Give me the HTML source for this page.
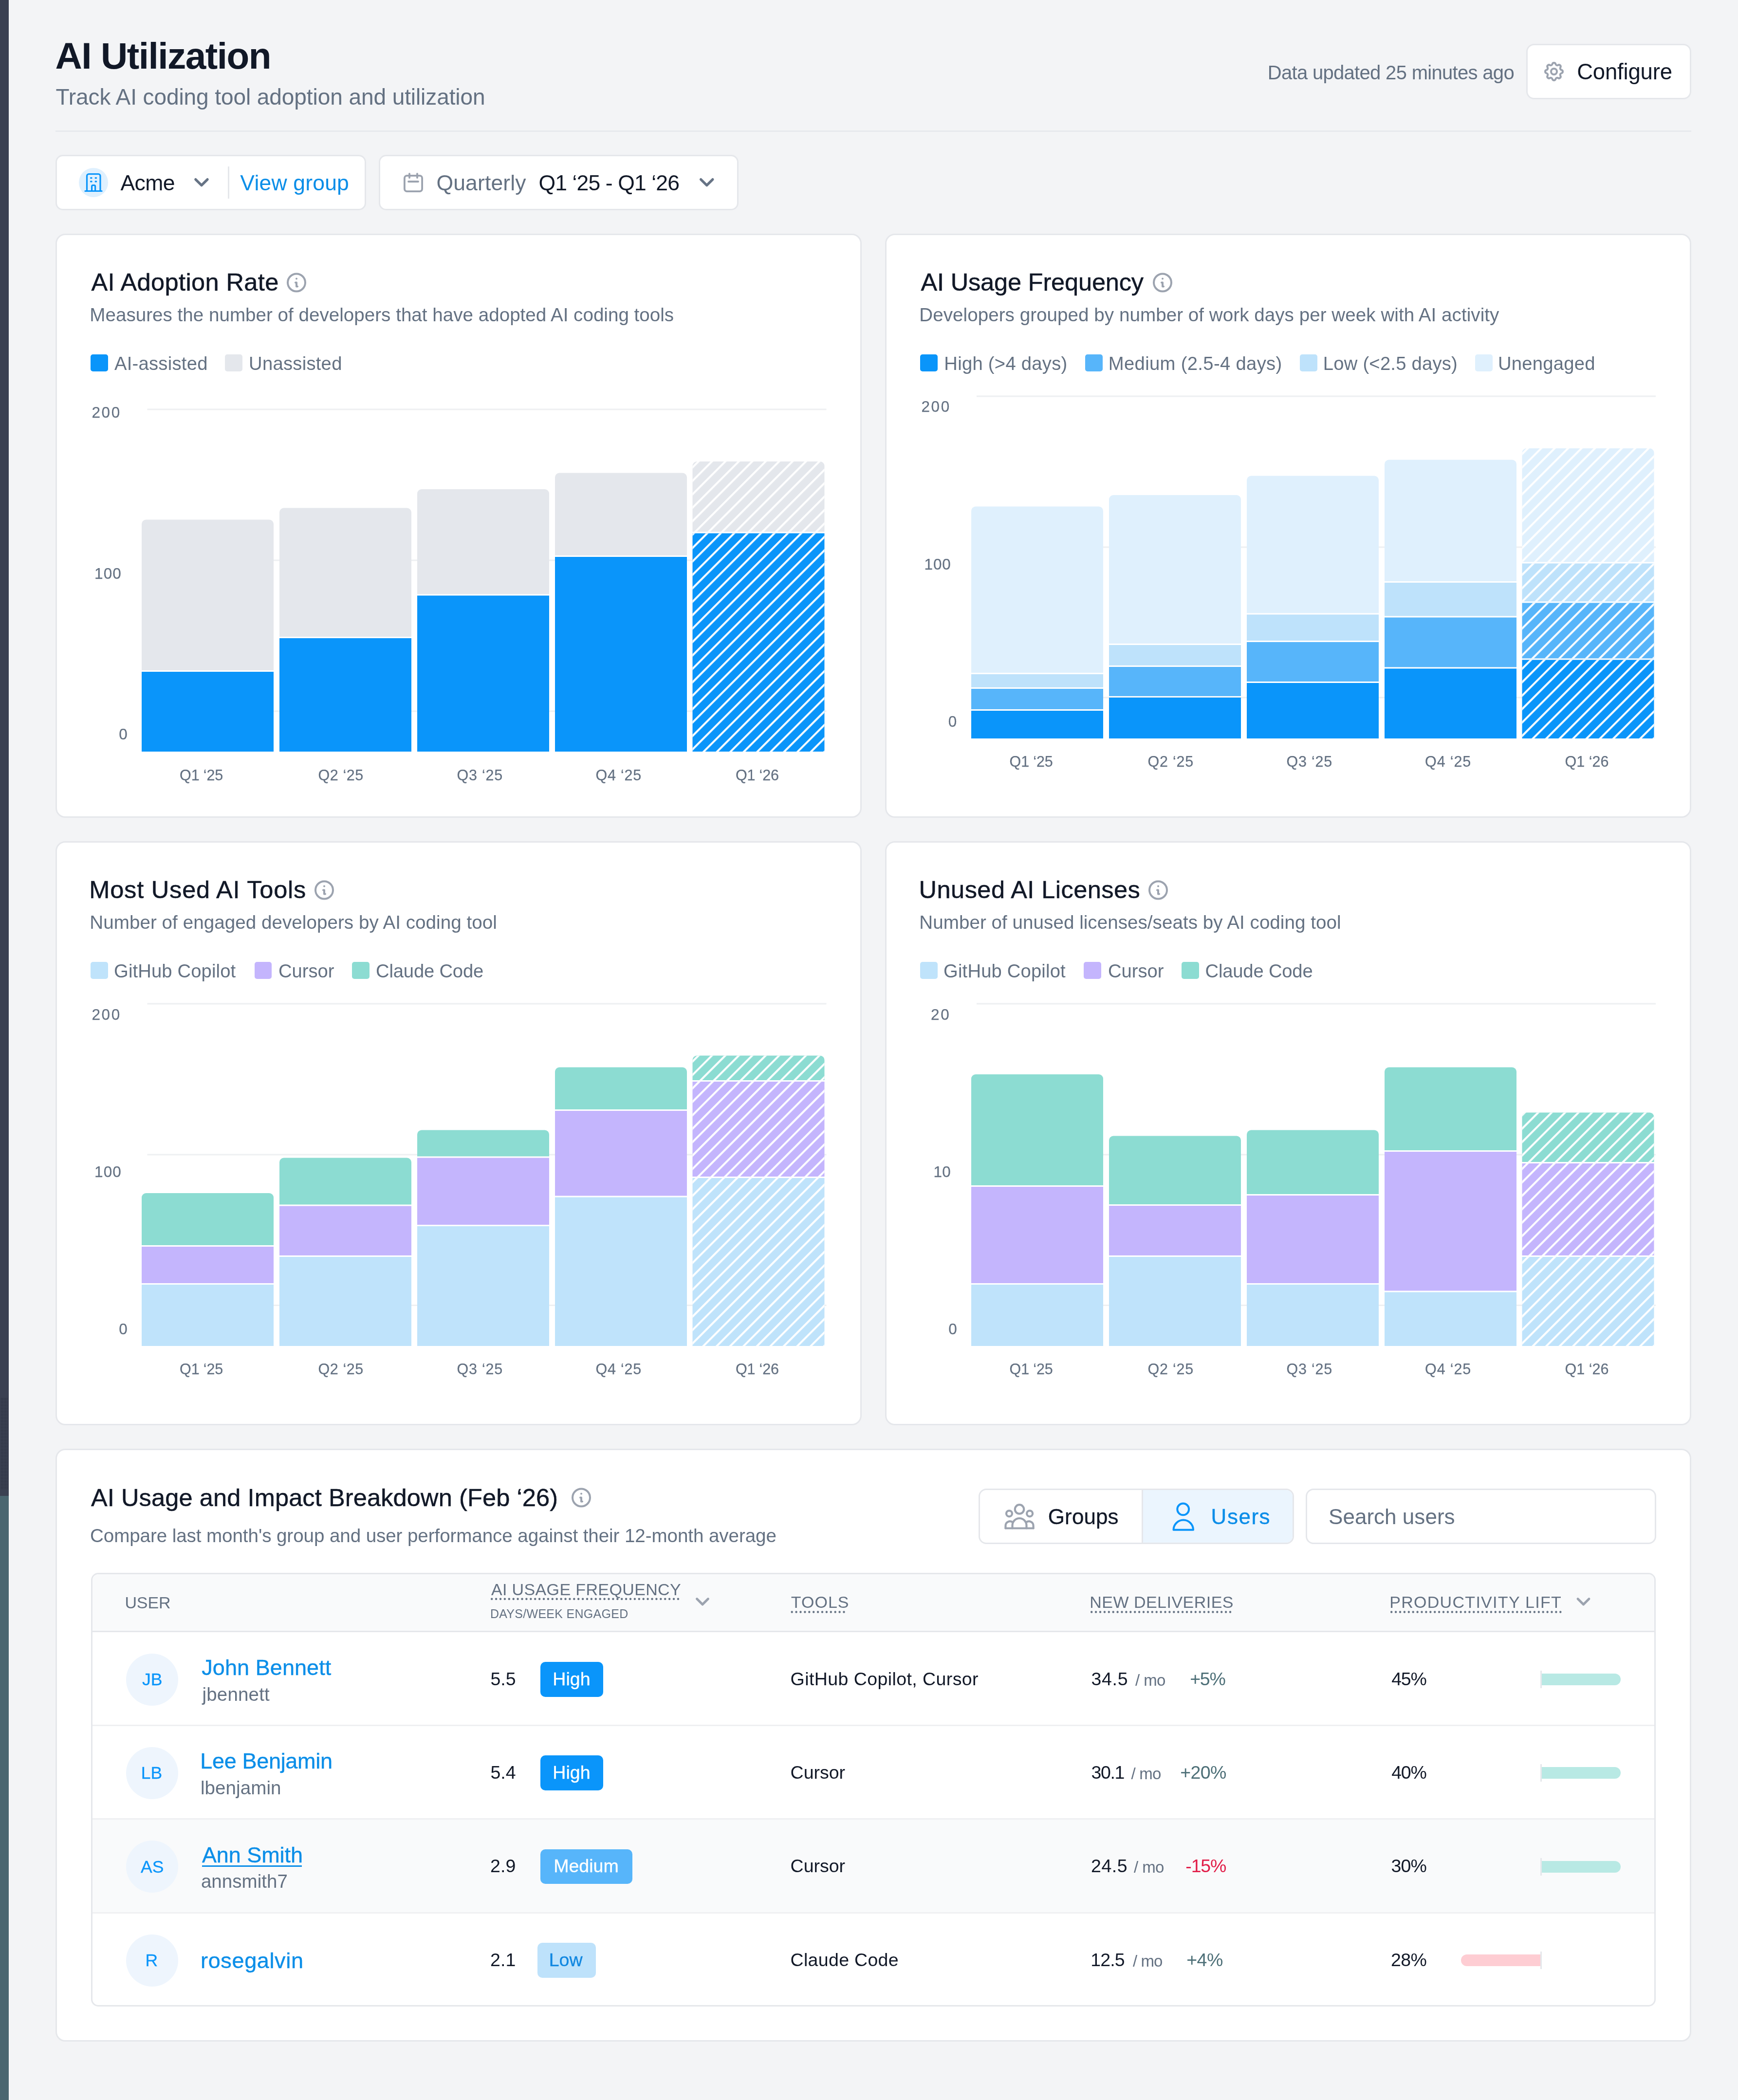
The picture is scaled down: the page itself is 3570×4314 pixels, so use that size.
<!DOCTYPE html>
<html><head><meta charset="utf-8"><title>AI Utilization</title>
<style>
html,body{margin:0;padding:0;}
body{width:3570px;height:4314px;position:relative;overflow:hidden;background:#f3f4f6;font-family:"Liberation Sans", sans-serif;}
.b{position:absolute;box-sizing:border-box;}
.t{position:absolute;white-space:nowrap;line-height:1;}
.ov{position:absolute;left:0;top:0;}
.tl{position:absolute;left:0;top:0;width:3570px;height:4314px;will-change:transform;}
</style></head><body>
<div class="b" style="left:0px;top:0px;width:18px;height:3073px;background:#3b4152;"></div>
<div class="b" style="left:0px;top:3073px;width:18px;height:1241px;background:#4a6670;"></div>
<div class="b" style="left:18px;top:0px;width:1px;height:4314px;background:#fbfbfc;"></div>
<div class="b" style="left:3135px;top:90px;width:339px;height:114px;background:#fff;border:3px solid #e5e7eb;border-radius:16px;"></div>
<div class="b" style="left:114px;top:268px;width:3360px;height:3px;background:#e7e9ed;"></div>
<div class="b" style="left:114px;top:318px;width:638px;height:114px;background:#fff;border:3px solid #e5e7eb;border-radius:15px;"></div>
<div class="b" style="left:162px;top:345px;width:60px;height:60px;background:#dff0fe;border-radius:30px;"></div>
<div class="b" style="left:468px;top:342px;width:3px;height:66px;background:#e5e7eb;"></div>
<div class="b" style="left:778px;top:318px;width:739px;height:114px;background:#fff;border:3px solid #e5e7eb;border-radius:15px;"></div>
<div class="b" style="left:114px;top:480px;width:1656px;height:1200px;background:#fff;border:3px solid #e5e7eb;border-radius:20px;"></div>
<div class="b" style="left:1818px;top:480px;width:1656px;height:1200px;background:#fff;border:3px solid #e5e7eb;border-radius:20px;"></div>
<div class="b" style="left:114px;top:1728px;width:1656px;height:1200px;background:#fff;border:3px solid #e5e7eb;border-radius:20px;"></div>
<div class="b" style="left:1818px;top:1728px;width:1656px;height:1200px;background:#fff;border:3px solid #e5e7eb;border-radius:20px;"></div>
<div class="b" style="left:114px;top:2976px;width:3360px;height:1218px;background:#fff;border:3px solid #e5e7eb;border-radius:20px;"></div>
<div class="b" style="left:186px;top:727.5px;width:35.5px;height:35.5px;background:#0a95fa;border-radius:5px;"></div>
<div class="b" style="left:462px;top:727.5px;width:35.5px;height:35.5px;background:#e4e7ec;border-radius:5px;"></div>
<div class="b" style="left:1890px;top:727.5px;width:35.5px;height:35.5px;background:#0a95fa;border-radius:5px;"></div>
<div class="b" style="left:2229px;top:727.5px;width:35.5px;height:35.5px;background:#57b5fa;border-radius:5px;"></div>
<div class="b" style="left:2670px;top:727.5px;width:35.5px;height:35.5px;background:#bee2fb;border-radius:5px;"></div>
<div class="b" style="left:3030px;top:727.5px;width:35.5px;height:35.5px;background:#dff0fd;border-radius:5px;"></div>
<div class="b" style="left:186px;top:1975.5px;width:35.5px;height:35.5px;background:#bfe3fb;border-radius:5px;"></div>
<div class="b" style="left:522.5px;top:1975.5px;width:35.5px;height:35.5px;background:#c4b5fd;border-radius:5px;"></div>
<div class="b" style="left:723px;top:1975.5px;width:35.5px;height:35.5px;background:#8cdcd2;border-radius:5px;"></div>
<div class="b" style="left:1890px;top:1975.5px;width:35.5px;height:35.5px;background:#bfe3fb;border-radius:5px;"></div>
<div class="b" style="left:2226px;top:1975.5px;width:35.5px;height:35.5px;background:#c4b5fd;border-radius:5px;"></div>
<div class="b" style="left:2427px;top:1975.5px;width:35.5px;height:35.5px;background:#8cdcd2;border-radius:5px;"></div>
<div class="b" style="left:2010px;top:3058px;width:648px;height:114px;background:#fff;border:3px solid #e5e7eb;border-radius:16px;"></div>
<div class="b" style="left:2346px;top:3061px;width:309px;height:108px;background:#ebf5fe;border-radius:0 13px 13px 0;"></div>
<div class="b" style="left:2345px;top:3061px;width:3px;height:108px;background:#e5e7eb;"></div>
<div class="b" style="left:2682px;top:3058px;width:720px;height:114px;background:#fff;border:3px solid #e5e7eb;border-radius:16px;"></div>
<div class="b" style="left:187px;top:3231px;width:3214px;height:891px;background:#fff;border:3px solid #e5e7eb;border-radius:15px;"></div>
<div class="b" style="left:190px;top:3234px;width:3208px;height:116px;background:#f9fafb;border-radius:12px 12px 0 0;"></div>
<div class="b" style="left:190px;top:3350px;width:3208px;height:3px;background:#e5e7eb;"></div>
<div class="b" style="left:190px;top:3737px;width:3208px;height:191px;background:#f9fafb;"></div>
<div class="b" style="left:190px;top:3542.5px;width:3208px;height:3.0px;background:#eff0f2;"></div>
<div class="b" style="left:190px;top:3734.5px;width:3208px;height:3.0px;background:#eff0f2;"></div>
<div class="b" style="left:190px;top:3927.5px;width:3208px;height:3.0px;background:#eff0f2;"></div>
<div class="b" style="left:258.5px;top:3396.5px;width:107.0px;height:107.0px;background:#eef5fd;border-radius:54px;"></div>
<div class="b" style="left:1110px;top:3414px;width:128.5px;height:71.5px;background:#0a95fa;border-radius:10px;"></div>
<div class="b" style="left:3167px;top:3438px;width:162px;height:24px;background:#b8e9e4;border-radius:0 12px 12px 0;"></div>
<div class="b" style="left:3164px;top:3432px;width:2.5px;height:36px;background:#e5e7eb;"></div>
<div class="b" style="left:258.5px;top:3588.5px;width:107.0px;height:107.0px;background:#eef5fd;border-radius:54px;"></div>
<div class="b" style="left:1110px;top:3606px;width:128.5px;height:71.5px;background:#0a95fa;border-radius:10px;"></div>
<div class="b" style="left:3167px;top:3630px;width:162px;height:24px;background:#b8e9e4;border-radius:0 12px 12px 0;"></div>
<div class="b" style="left:3164px;top:3624px;width:2.5px;height:36px;background:#e5e7eb;"></div>
<div class="b" style="left:258.5px;top:3781.0px;width:107.0px;height:107.0px;background:#eef5fd;border-radius:54px;"></div>
<div class="b" style="left:415px;top:3831.5px;width:205px;height:3.0px;background:#0b8ee8;"></div>
<div class="b" style="left:1110px;top:3798.5px;width:188.5px;height:71.5px;background:#57b5fa;border-radius:10px;"></div>
<div class="b" style="left:3167px;top:3822.5px;width:162px;height:24.0px;background:#b8e9e4;border-radius:0 12px 12px 0;"></div>
<div class="b" style="left:3164px;top:3816.5px;width:2.5px;height:36.0px;background:#e5e7eb;"></div>
<div class="b" style="left:258.5px;top:3973.5px;width:107.0px;height:107.0px;background:#eef5fd;border-radius:54px;"></div>
<div class="b" style="left:1104px;top:3991px;width:119.5px;height:71.5px;background:#bee2fb;border-radius:10px;"></div>
<div class="b" style="left:3001px;top:4015px;width:164px;height:24px;background:#fecdd3;border-radius:12px 0 0 12px;"></div>
<div class="b" style="left:3164px;top:4009px;width:2.5px;height:36px;background:#e5e7eb;"></div>
<svg class="ov" width="3570" height="4314" viewBox="0 0 3570 4314"><defs><pattern id="sbdots" patternUnits="userSpaceOnUse" width="3" height="3"><rect x="2" y="1" width="1" height="1" fill="#161b27"/></pattern><pattern id="h114_480" patternUnits="userSpaceOnUse" width="19.5020" height="40" patternTransform="translate(114,480) rotate(45)"><rect x="14.723" y="-5" width="4.0" height="50" fill="#fff"/></pattern><pattern id="h1818_480" patternUnits="userSpaceOnUse" width="19.5020" height="40" patternTransform="translate(1818,480) rotate(45)"><rect x="14.723" y="-5" width="4.0" height="50" fill="#fff"/></pattern><pattern id="h114_1728" patternUnits="userSpaceOnUse" width="19.5020" height="40" patternTransform="translate(114,1728) rotate(45)"><rect x="14.723" y="-5" width="4.0" height="50" fill="#fff"/></pattern><pattern id="h1818_1728" patternUnits="userSpaceOnUse" width="19.5020" height="40" patternTransform="translate(1818,1728) rotate(45)"><rect x="14.723" y="-5" width="4.0" height="50" fill="#fff"/></pattern></defs><rect x="0" y="2871" width="17" height="189" fill="url(#sbdots)"/><g transform="translate(3168.00,123.00) scale(2.0000)" fill="none" stroke="#9ca3af" stroke-width="2" stroke-linecap="round" stroke-linejoin="round"><path d="M10.325 4.317c.426 -1.756 2.924 -1.756 3.35 0a1.724 1.724 0 0 0 2.573 1.066c1.543 -.94 3.31 .826 2.37 2.37a1.724 1.724 0 0 0 1.065 2.572c1.756 .426 1.756 2.924 0 3.35a1.724 1.724 0 0 0 -1.066 2.573c.94 1.543 -.826 3.31 -2.37 2.37a1.724 1.724 0 0 0 -2.572 1.065c-.426 1.756 -2.924 1.756 -3.35 0a1.724 1.724 0 0 0 -2.573 -1.066c-1.543 .94 -3.31 -.826 -2.37 -2.37a1.724 1.724 0 0 0 -1.065 -2.572c-1.756 -.426 -1.756 -2.924 0 -3.35a1.724 1.724 0 0 0 1.066 -2.573c-.94 -1.543 .826 -3.31 2.37 -2.37c1 .608 2.296 .07 2.572 -1.065z"/><circle cx="12" cy="12" r="3"/></g><g fill="none" stroke="#0a95fa" stroke-width="3.2" stroke-linecap="round" stroke-linejoin="round"><path d="M178.5 392.5V361.5a4 4 0 0 1 4 -4h19.5a4 4 0 0 1 4 4V392.5"/><path d="M175 392.5H209"/><path d="M188.6 392V383a2.5 2.5 0 0 1 2.5 -2.5h2a2.5 2.5 0 0 1 2.5 2.5V392"/><path d="M186.6 365.6h1.4M196.2 365.6h1.4M186.6 372.9h1.4M196.2 372.9h1.4" stroke-width="3.4"/></g><path d="M401.8 368.6L414 380.6L426.1 368.6" fill="none" stroke="#667385" stroke-width="5.2" stroke-linecap="round" stroke-linejoin="round"/><path d="M1439.6 368.6L1451.8 380.6L1463.9 368.6" fill="none" stroke="#667385" stroke-width="5.2" stroke-linecap="round" stroke-linejoin="round"/><g fill="none" stroke="#9ca3af" stroke-width="3.8" stroke-linecap="round" stroke-linejoin="round"><rect x="830.9" y="360.9" width="36.2" height="32.2" rx="5"/><path d="M841 357v8M857 357v8M839 373h20"/></g><g transform="translate(585.00,556.50) scale(2.0000)" fill="none" stroke="#9ca3af" stroke-width="2" stroke-linecap="round" stroke-linejoin="round"><circle cx="12" cy="12" r="9"/><path d="M12 8h.01"/><path d="M11 12h1v4h1"/></g><rect x="302.5" y="839.5" width="1395.0" height="3" fill="#eef0f2"/><rect x="302.5" y="1149.5" width="1395.0" height="3" fill="#eef0f2"/><rect x="302.5" y="1459.5" width="1395.0" height="3" fill="#eef0f2"/><path d="M291,1377.0V1076.5a9,9 0 0 1 9,-9H553a9,9 0 0 1 9,9V1377.0Z" fill="#e4e7ec"/><path d="M291,1544V1380.0H562V1544Z" fill="#0a95fa"/><path d="M574,1308.0V1052.5a9,9 0 0 1 9,-9H836a9,9 0 0 1 9,9V1308.0Z" fill="#e4e7ec"/><path d="M574,1544V1311.0H845V1544Z" fill="#0a95fa"/><path d="M857,1220.5V1014a9,9 0 0 1 9,-9H1119a9,9 0 0 1 9,9V1220.5Z" fill="#e4e7ec"/><path d="M857,1544V1223.5H1128V1544Z" fill="#0a95fa"/><path d="M1140,1141.0V980.5a9,9 0 0 1 9,-9H1402a9,9 0 0 1 9,9V1141.0Z" fill="#e4e7ec"/><path d="M1140,1544V1144.0H1411V1544Z" fill="#0a95fa"/><path d="M1422.5,1092.5V957a9,9 0 0 1 9,-9H1684.5a9,9 0 0 1 9,9V1092.5Z" fill="#e4e7ec"/><path d="M1422.5,1092.5V957a9,9 0 0 1 9,-9H1684.5a9,9 0 0 1 9,9V1092.5Z" fill="url(#h114_480)"/><path d="M1422.5,1544V1095.5H1693.5V1544Z" fill="#0a95fa"/><path d="M1422.5,1544V1095.5H1693.5V1544Z" fill="url(#h114_480)"/><g transform="translate(2364.00,556.50) scale(2.0000)" fill="none" stroke="#9ca3af" stroke-width="2" stroke-linecap="round" stroke-linejoin="round"><circle cx="12" cy="12" r="9"/><path d="M12 8h.01"/><path d="M11 12h1v4h1"/></g><rect x="2006" y="812.5" width="1395" height="3" fill="#eef0f2"/><rect x="2006" y="1122.5" width="1395" height="3" fill="#eef0f2"/><rect x="2006" y="1431.5" width="1395" height="3" fill="#eef0f2"/><path d="M1995,1382.0V1049.5a9,9 0 0 1 9,-9H2257a9,9 0 0 1 9,9V1382.0Z" fill="#dff0fd"/><path d="M1995,1412.0V1385.0H2266V1412.0Z" fill="#bee2fb"/><path d="M1995,1457.0V1415.0H2266V1457.0Z" fill="#57b5fa"/><path d="M1995,1517V1460.0H2266V1517Z" fill="#0a95fa"/><path d="M2278,1322.0V1026a9,9 0 0 1 9,-9H2540a9,9 0 0 1 9,9V1322.0Z" fill="#dff0fd"/><path d="M2278,1367.0V1325.0H2549V1367.0Z" fill="#bee2fb"/><path d="M2278,1430.0V1370.0H2549V1430.0Z" fill="#57b5fa"/><path d="M2278,1517V1433.0H2549V1517Z" fill="#0a95fa"/><path d="M2561,1259.5V986.5a9,9 0 0 1 9,-9H2823a9,9 0 0 1 9,9V1259.5Z" fill="#dff0fd"/><path d="M2561,1316.0V1262.5H2832V1316.0Z" fill="#bee2fb"/><path d="M2561,1400.0V1319.0H2832V1400.0Z" fill="#57b5fa"/><path d="M2561,1517V1403.0H2832V1517Z" fill="#0a95fa"/><path d="M2844,1194.0V953.5a9,9 0 0 1 9,-9H3106a9,9 0 0 1 9,9V1194.0Z" fill="#dff0fd"/><path d="M2844,1265.5V1197.0H3115V1265.5Z" fill="#bee2fb"/><path d="M2844,1370.5V1268.5H3115V1370.5Z" fill="#57b5fa"/><path d="M2844,1517V1373.5H3115V1517Z" fill="#0a95fa"/><path d="M3126.5,1154.5V930a9,9 0 0 1 9,-9H3388.5a9,9 0 0 1 9,9V1154.5Z" fill="#dff0fd"/><path d="M3126.5,1154.5V930a9,9 0 0 1 9,-9H3388.5a9,9 0 0 1 9,9V1154.5Z" fill="url(#h1818_480)"/><path d="M3126.5,1235.5V1157.5H3397.5V1235.5Z" fill="#bee2fb"/><path d="M3126.5,1235.5V1157.5H3397.5V1235.5Z" fill="url(#h1818_480)"/><path d="M3126.5,1352.5V1238.5H3397.5V1352.5Z" fill="#57b5fa"/><path d="M3126.5,1352.5V1238.5H3397.5V1352.5Z" fill="url(#h1818_480)"/><path d="M3126.5,1517V1355.5H3397.5V1517Z" fill="#0a95fa"/><path d="M3126.5,1517V1355.5H3397.5V1517Z" fill="url(#h1818_480)"/><g transform="translate(642.00,1804.50) scale(2.0000)" fill="none" stroke="#9ca3af" stroke-width="2" stroke-linecap="round" stroke-linejoin="round"><circle cx="12" cy="12" r="9"/><path d="M12 8h.01"/><path d="M11 12h1v4h1"/></g><rect x="302.5" y="2060.5" width="1395.0" height="3" fill="#eef0f2"/><rect x="302.5" y="2370.5" width="1395.0" height="3" fill="#eef0f2"/><rect x="302.5" y="2680.0" width="1395.0" height="3" fill="#eef0f2"/><path d="M291,2558.0V2460a9,9 0 0 1 9,-9H553a9,9 0 0 1 9,9V2558.0Z" fill="#8cdcd2"/><path d="M291,2636.0V2561.0H562V2636.0Z" fill="#c4b5fd"/><path d="M291,2765V2639.0H562V2765Z" fill="#bfe3fb"/><path d="M574,2474.5V2387.5a9,9 0 0 1 9,-9H836a9,9 0 0 1 9,9V2474.5Z" fill="#8cdcd2"/><path d="M574,2579.0V2477.5H845V2579.0Z" fill="#c4b5fd"/><path d="M574,2765V2582.0H845V2765Z" fill="#bfe3fb"/><path d="M857,2375.5V2330.5a9,9 0 0 1 9,-9H1119a9,9 0 0 1 9,9V2375.5Z" fill="#8cdcd2"/><path d="M857,2516.0V2378.5H1128V2516.0Z" fill="#c4b5fd"/><path d="M857,2765V2519.0H1128V2765Z" fill="#bfe3fb"/><path d="M1140,2279.0V2201.5a9,9 0 0 1 9,-9H1402a9,9 0 0 1 9,9V2279.0Z" fill="#8cdcd2"/><path d="M1140,2456.5V2282.0H1411V2456.5Z" fill="#c4b5fd"/><path d="M1140,2765V2459.5H1411V2765Z" fill="#bfe3fb"/><path d="M1422.5,2219.0V2177.5a9,9 0 0 1 9,-9H1684.5a9,9 0 0 1 9,9V2219.0Z" fill="#8cdcd2"/><path d="M1422.5,2219.0V2177.5a9,9 0 0 1 9,-9H1684.5a9,9 0 0 1 9,9V2219.0Z" fill="url(#h114_1728)"/><path d="M1422.5,2417.0V2222.0H1693.5V2417.0Z" fill="#c4b5fd"/><path d="M1422.5,2417.0V2222.0H1693.5V2417.0Z" fill="url(#h114_1728)"/><path d="M1422.5,2765V2420.0H1693.5V2765Z" fill="#bfe3fb"/><path d="M1422.5,2765V2420.0H1693.5V2765Z" fill="url(#h114_1728)"/><g transform="translate(2355.00,1804.50) scale(2.0000)" fill="none" stroke="#9ca3af" stroke-width="2" stroke-linecap="round" stroke-linejoin="round"><circle cx="12" cy="12" r="9"/><path d="M12 8h.01"/><path d="M11 12h1v4h1"/></g><rect x="2006" y="2060.5" width="1395" height="3" fill="#eef0f2"/><rect x="2006" y="2370.5" width="1395" height="3" fill="#eef0f2"/><rect x="2006" y="2680.0" width="1395" height="3" fill="#eef0f2"/><path d="M1995,2435.0V2216a9,9 0 0 1 9,-9H2257a9,9 0 0 1 9,9V2435.0Z" fill="#8cdcd2"/><path d="M1995,2636.0V2438.0H2266V2636.0Z" fill="#c4b5fd"/><path d="M1995,2765V2639.0H2266V2765Z" fill="#bfe3fb"/><path d="M2278,2474.0V2342.5a9,9 0 0 1 9,-9H2540a9,9 0 0 1 9,9V2474.0Z" fill="#8cdcd2"/><path d="M2278,2579.0V2477.0H2549V2579.0Z" fill="#c4b5fd"/><path d="M2278,2765V2582.0H2549V2765Z" fill="#bfe3fb"/><path d="M2561,2453.0V2330.5a9,9 0 0 1 9,-9H2823a9,9 0 0 1 9,9V2453.0Z" fill="#8cdcd2"/><path d="M2561,2636.0V2456.0H2832V2636.0Z" fill="#c4b5fd"/><path d="M2561,2765V2639.0H2832V2765Z" fill="#bfe3fb"/><path d="M2844,2363.0V2201.5a9,9 0 0 1 9,-9H3106a9,9 0 0 1 9,9V2363.0Z" fill="#8cdcd2"/><path d="M2844,2651.5V2366.0H3115V2651.5Z" fill="#c4b5fd"/><path d="M2844,2765V2654.5H3115V2765Z" fill="#bfe3fb"/><path d="M3126.5,2387.0V2294.5a9,9 0 0 1 9,-9H3388.5a9,9 0 0 1 9,9V2387.0Z" fill="#8cdcd2"/><path d="M3126.5,2387.0V2294.5a9,9 0 0 1 9,-9H3388.5a9,9 0 0 1 9,9V2387.0Z" fill="url(#h1818_1728)"/><path d="M3126.5,2579.0V2390.0H3397.5V2579.0Z" fill="#c4b5fd"/><path d="M3126.5,2579.0V2390.0H3397.5V2579.0Z" fill="url(#h1818_1728)"/><path d="M3126.5,2765V2582.0H3397.5V2765Z" fill="#bfe3fb"/><path d="M3126.5,2765V2582.0H3397.5V2765Z" fill="url(#h1818_1728)"/><g transform="translate(1170.00,3052.50) scale(2.0000)" fill="none" stroke="#9ca3af" stroke-width="2" stroke-linecap="round" stroke-linejoin="round"><circle cx="12" cy="12" r="9"/><path d="M12 8h.01"/><path d="M11 12h1v4h1"/></g><g fill="none" stroke="#9ca3af" stroke-width="4.2" stroke-linecap="round" stroke-linejoin="round"><circle cx="2094" cy="3100.4" r="9.2"/><circle cx="2073" cy="3109.3" r="6"/><circle cx="2115.1" cy="3109.3" r="6"/><path d="M2065.5 3139.5v-5a9 9 0 0 1 15 -7"/><path d="M2122.6 3139.5v-5a9 9 0 0 0 -15 -7"/><path d="M2079.5 3139.5v-6a14.5 14.5 0 0 1 29 0v6"/><path d="M2065.5 3139.5H2122.6"/></g><g fill="none" stroke="#0a95fa" stroke-width="4" stroke-linecap="round" stroke-linejoin="round"><circle cx="2430.2" cy="3100.4" r="11.9"/><path d="M2410.5 3142.8a20 20 0 0 1 40.5 0Z"/></g><line x1="1010.2" y1="3284.7" x2="1398" y2="3284.7" stroke="#647182" stroke-width="4.4" stroke-dasharray="0 8.9" stroke-linecap="round"/><line x1="1626.7" y1="3311.5" x2="1742" y2="3311.5" stroke="#647182" stroke-width="4.4" stroke-dasharray="0 8.9" stroke-linecap="round"/><line x1="2242.2" y1="3311.5" x2="2532" y2="3311.5" stroke="#647182" stroke-width="4.4" stroke-dasharray="0 8.9" stroke-linecap="round"/><line x1="2858.2" y1="3311.5" x2="3206" y2="3311.5" stroke="#647182" stroke-width="4.4" stroke-dasharray="0 8.9" stroke-linecap="round"/><path d="M1431.5 3284.5l11.5 11.5l11.5 -11.5" fill="none" stroke="#9ca3af" stroke-width="4.8" stroke-linecap="round" stroke-linejoin="round"/><path d="M3241 3284.5l11.5 11.5l11.5 -11.5" fill="none" stroke="#9ca3af" stroke-width="4.8" stroke-linecap="round" stroke-linejoin="round"/></svg>
<div class="tl"><span class="t" style="left:113.59px;top:76.91px;font-size:76.50px;color:#111827;letter-spacing:-1.481px;font-weight:700;">AI Utilization</span>
<span class="t" style="left:114.49px;top:175.66px;font-size:46.00px;color:#647182;letter-spacing:-0.080px;">Track AI coding tool adoption and utilization</span>
<span class="t" style="left:2603.72px;top:129.06px;font-size:40.00px;color:#647182;letter-spacing:-0.688px;">Data updated 25 minutes ago</span>
<span class="t" style="left:3239.18px;top:124.81px;font-size:45.50px;color:#111827;letter-spacing:-0.183px;">Configure</span>
<span class="t" style="left:247.41px;top:353.91px;font-size:44.50px;color:#111827;letter-spacing:-0.565px;">Acme</span>
<span class="t" style="left:493.32px;top:353.91px;font-size:44.50px;color:#0b8ee8;letter-spacing:0.191px;">View group</span>
<span class="t" style="left:896.41px;top:353.91px;font-size:44.50px;color:#647182;letter-spacing:0.150px;">Quarterly</span>
<span class="t" style="left:1106.41px;top:353.91px;font-size:44.50px;color:#111827;letter-spacing:-0.872px;">Q1 ‘25 - Q1 ‘26</span>
<span class="t" style="left:187.40px;top:555.41px;font-size:50.50px;color:#111827;letter-spacing:0.388px;-webkit-text-stroke:0.5px #111827;">AI Adoption Rate</span>
<span class="t" style="left:184.33px;top:627.86px;font-size:38.60px;color:#647182;letter-spacing:0.015px;">Measures the number of developers that have adopted AI coding tools</span>
<span class="t" style="left:234.92px;top:728.06px;font-size:38.20px;color:#647182;letter-spacing:0.258px;">AI-assisted</span>
<span class="t" style="left:511.06px;top:728.06px;font-size:38.20px;color:#647182;letter-spacing:0.268px;">Unassisted</span>
<span class="t" style="left:188.43px;top:832.41px;font-size:31.50px;color:#647182;letter-spacing:2.631px;-webkit-text-stroke:0.25px #647182;">200</span>
<span class="t" style="left:194.11px;top:1162.91px;font-size:31.50px;color:#647182;letter-spacing:1.040px;-webkit-text-stroke:0.25px #647182;">100</span>
<span class="t" style="left:244.27px;top:1492.91px;font-size:31.50px;color:#647182;-webkit-text-stroke:0.25px #647182;">0</span>
<span class="t" style="left:369.07px;top:1576.91px;font-size:30.50px;color:#647182;letter-spacing:-0.128px;-webkit-text-stroke:0.25px #647182;">Q1 ‘25</span>
<span class="t" style="left:653.57px;top:1576.91px;font-size:30.50px;color:#647182;letter-spacing:0.572px;-webkit-text-stroke:0.25px #647182;">Q2 ‘25</span>
<span class="t" style="left:938.57px;top:1576.91px;font-size:30.50px;color:#647182;letter-spacing:0.772px;-webkit-text-stroke:0.25px #647182;">Q3 ‘25</span>
<span class="t" style="left:1223.57px;top:1576.91px;font-size:30.50px;color:#647182;letter-spacing:0.772px;-webkit-text-stroke:0.25px #647182;">Q4 ‘25</span>
<span class="t" style="left:1511.07px;top:1576.91px;font-size:30.50px;color:#647182;letter-spacing:-0.216px;-webkit-text-stroke:0.25px #647182;">Q1 ‘26</span>
<span class="t" style="left:1891.40px;top:555.41px;font-size:50.50px;color:#111827;letter-spacing:-0.156px;-webkit-text-stroke:0.5px #111827;">AI Usage Frequency</span>
<span class="t" style="left:1888.33px;top:627.86px;font-size:38.60px;color:#647182;letter-spacing:0.047px;">Developers grouped by number of work days per week with AI activity</span>
<span class="t" style="left:1939.37px;top:728.06px;font-size:38.20px;color:#647182;letter-spacing:0.271px;">High (&gt;4 days)</span>
<span class="t" style="left:2276.87px;top:728.06px;font-size:38.20px;color:#647182;letter-spacing:0.345px;">Medium (2.5-4 days)</span>
<span class="t" style="left:2717.87px;top:728.06px;font-size:38.20px;color:#647182;letter-spacing:0.224px;">Low (&lt;2.5 days)</span>
<span class="t" style="left:3077.06px;top:728.06px;font-size:38.20px;color:#647182;letter-spacing:0.232px;">Unengaged</span>
<span class="t" style="left:1892.42px;top:820.41px;font-size:31.50px;color:#647182;letter-spacing:2.631px;-webkit-text-stroke:0.25px #647182;">200</span>
<span class="t" style="left:1898.61px;top:1143.91px;font-size:31.50px;color:#647182;letter-spacing:0.790px;-webkit-text-stroke:0.25px #647182;">100</span>
<span class="t" style="left:1947.77px;top:1467.41px;font-size:31.50px;color:#647182;-webkit-text-stroke:0.25px #647182;">0</span>
<span class="t" style="left:2073.57px;top:1549.41px;font-size:30.50px;color:#647182;letter-spacing:-0.128px;-webkit-text-stroke:0.25px #647182;">Q1 ‘25</span>
<span class="t" style="left:2357.57px;top:1549.41px;font-size:30.50px;color:#647182;letter-spacing:0.772px;-webkit-text-stroke:0.25px #647182;">Q2 ‘25</span>
<span class="t" style="left:2642.57px;top:1549.41px;font-size:30.50px;color:#647182;letter-spacing:0.772px;-webkit-text-stroke:0.25px #647182;">Q3 ‘25</span>
<span class="t" style="left:2927.07px;top:1549.41px;font-size:30.50px;color:#647182;letter-spacing:0.872px;-webkit-text-stroke:0.25px #647182;">Q4 ‘25</span>
<span class="t" style="left:3214.57px;top:1549.41px;font-size:30.50px;color:#647182;letter-spacing:-0.016px;-webkit-text-stroke:0.25px #647182;">Q1 ‘26</span>
<span class="t" style="left:183.36px;top:1802.91px;font-size:50.50px;color:#111827;letter-spacing:0.802px;-webkit-text-stroke:0.5px #111827;">Most Used AI Tools</span>
<span class="t" style="left:184.33px;top:1876.36px;font-size:38.60px;color:#647182;letter-spacing:0.049px;">Number of engaged developers by AI coding tool</span>
<span class="t" style="left:234.09px;top:1976.06px;font-size:38.20px;color:#647182;letter-spacing:0.136px;">GitHub Copilot</span>
<span class="t" style="left:572.05px;top:1976.06px;font-size:38.20px;color:#647182;letter-spacing:-0.016px;">Cursor</span>
<span class="t" style="left:772.05px;top:1976.06px;font-size:38.20px;color:#647182;letter-spacing:-0.174px;">Claude Code</span>
<span class="t" style="left:188.43px;top:2068.91px;font-size:31.50px;color:#647182;letter-spacing:2.631px;-webkit-text-stroke:0.25px #647182;">200</span>
<span class="t" style="left:194.11px;top:2392.41px;font-size:31.50px;color:#647182;letter-spacing:1.040px;-webkit-text-stroke:0.25px #647182;">100</span>
<span class="t" style="left:244.27px;top:2714.91px;font-size:31.50px;color:#647182;-webkit-text-stroke:0.25px #647182;">0</span>
<span class="t" style="left:369.07px;top:2796.91px;font-size:30.50px;color:#647182;letter-spacing:-0.128px;-webkit-text-stroke:0.25px #647182;">Q1 ‘25</span>
<span class="t" style="left:653.57px;top:2796.91px;font-size:30.50px;color:#647182;letter-spacing:0.572px;-webkit-text-stroke:0.25px #647182;">Q2 ‘25</span>
<span class="t" style="left:938.57px;top:2796.91px;font-size:30.50px;color:#647182;letter-spacing:0.772px;-webkit-text-stroke:0.25px #647182;">Q3 ‘25</span>
<span class="t" style="left:1223.57px;top:2796.91px;font-size:30.50px;color:#647182;letter-spacing:0.772px;-webkit-text-stroke:0.25px #647182;">Q4 ‘25</span>
<span class="t" style="left:1511.07px;top:2796.91px;font-size:30.50px;color:#647182;letter-spacing:-0.216px;-webkit-text-stroke:0.25px #647182;">Q1 ‘26</span>
<span class="t" style="left:1887.61px;top:1802.91px;font-size:50.50px;color:#111827;letter-spacing:0.461px;-webkit-text-stroke:0.5px #111827;">Unused AI Licenses</span>
<span class="t" style="left:1888.33px;top:1876.36px;font-size:38.60px;color:#647182;letter-spacing:0.042px;">Number of unused licenses/seats by AI coding tool</span>
<span class="t" style="left:1938.09px;top:1976.06px;font-size:38.20px;color:#647182;letter-spacing:0.174px;">GitHub Copilot</span>
<span class="t" style="left:2276.05px;top:1976.06px;font-size:38.20px;color:#647182;letter-spacing:-0.016px;">Cursor</span>
<span class="t" style="left:2475.55px;top:1976.06px;font-size:38.20px;color:#647182;letter-spacing:-0.184px;">Claude Code</span>
<span class="t" style="left:1911.92px;top:2068.91px;font-size:31.50px;color:#647182;letter-spacing:2.776px;-webkit-text-stroke:0.25px #647182;">20</span>
<span class="t" style="left:1917.61px;top:2392.41px;font-size:31.50px;color:#647182;letter-spacing:0.094px;-webkit-text-stroke:0.25px #647182;">10</span>
<span class="t" style="left:1948.27px;top:2714.91px;font-size:31.50px;color:#647182;-webkit-text-stroke:0.25px #647182;">0</span>
<span class="t" style="left:2073.57px;top:2796.91px;font-size:30.50px;color:#647182;letter-spacing:-0.128px;-webkit-text-stroke:0.25px #647182;">Q1 ‘25</span>
<span class="t" style="left:2357.57px;top:2796.91px;font-size:30.50px;color:#647182;letter-spacing:0.772px;-webkit-text-stroke:0.25px #647182;">Q2 ‘25</span>
<span class="t" style="left:2642.57px;top:2796.91px;font-size:30.50px;color:#647182;letter-spacing:0.772px;-webkit-text-stroke:0.25px #647182;">Q3 ‘25</span>
<span class="t" style="left:2927.07px;top:2796.91px;font-size:30.50px;color:#647182;letter-spacing:0.872px;-webkit-text-stroke:0.25px #647182;">Q4 ‘25</span>
<span class="t" style="left:3214.57px;top:2796.91px;font-size:30.50px;color:#647182;letter-spacing:-0.016px;-webkit-text-stroke:0.25px #647182;">Q1 ‘26</span>
<span class="t" style="left:186.90px;top:3052.41px;font-size:50.50px;color:#111827;letter-spacing:0.127px;-webkit-text-stroke:0.5px #111827;">AI Usage and Impact Breakdown (Feb ‘26)</span>
<span class="t" style="left:185.03px;top:3135.86px;font-size:38.60px;color:#647182;letter-spacing:-0.083px;">Compare last month&#x27;s group and user performance against their 12-month average</span>
<span class="t" style="left:2152.80px;top:3094.16px;font-size:44.00px;color:#111827;letter-spacing:0.102px;-webkit-text-stroke:0.3px #111827;">Groups</span>
<span class="t" style="left:2487.61px;top:3094.16px;font-size:44.00px;color:#0b8de8;letter-spacing:1.522px;-webkit-text-stroke:0.4px #0b8de8;">Users</span>
<span class="t" style="left:2729.02px;top:3094.16px;font-size:44.00px;color:#647182;letter-spacing:0.029px;">Search users</span>
<span class="t" style="left:256.38px;top:3275.16px;font-size:34.00px;color:#647182;letter-spacing:-0.090px;">USER</span>
<span class="t" style="left:1008.93px;top:3247.66px;font-size:34.00px;color:#647182;letter-spacing:0.370px;">AI USAGE FREQUENCY</span>
<span class="t" style="left:1006.95px;top:3303.16px;font-size:25.00px;color:#647182;letter-spacing:0.281px;">DAYS/WEEK ENGAGED</span>
<span class="t" style="left:1624.75px;top:3274.16px;font-size:34.00px;color:#647182;letter-spacing:1.041px;">TOOLS</span>
<span class="t" style="left:2238.21px;top:3274.16px;font-size:34.00px;color:#647182;letter-spacing:0.483px;">NEW DELIVERIES</span>
<span class="t" style="left:2854.21px;top:3274.16px;font-size:34.00px;color:#647182;letter-spacing:1.296px;">PRODUCTIVITY LIFT</span>
<span class="t" style="left:291.94px;top:3433.41px;font-size:35.50px;color:#0a95fa;-webkit-text-stroke:0.3px #0a95fa;">JB</span>
<span class="t" style="left:414.28px;top:3403.16px;font-size:45.00px;color:#0b8ee8;letter-spacing:0.073px;-webkit-text-stroke:0.4px #0b8ee8;">John Bennett</span>
<span class="t" style="left:415.46px;top:3461.91px;font-size:38.50px;color:#647182;letter-spacing:0.184px;">jbennett</span>
<span class="t" style="left:1007.50px;top:3430.91px;font-size:37.50px;color:#111827;">5.5</span>
<span class="t" style="left:1135.36px;top:3430.91px;font-size:37.50px;color:#fff;-webkit-text-stroke:0.35px #fff;">High</span>
<span class="t" style="left:1623.62px;top:3430.91px;font-size:37.50px;color:#111827;letter-spacing:0.417px;">GitHub Copilot, Cursor</span>
<span class="t" style="left:2241.57px;top:3430.91px;font-size:37.50px;color:#111827;letter-spacing:0.675px;">34.5</span>
<span class="t" style="left:2332.00px;top:3434.66px;font-size:33.00px;color:#647182;letter-spacing:-0.600px;">/ mo</span>
<span class="t" style="left:2444.16px;top:3430.91px;font-size:37.50px;color:#4d6f77;letter-spacing:-1.219px;">+5%</span>
<span class="t" style="left:2858.14px;top:3430.91px;font-size:37.50px;color:#111827;letter-spacing:-1.181px;">45%</span>
<span class="t" style="left:289.78px;top:3625.41px;font-size:35.50px;color:#0a95fa;-webkit-text-stroke:0.3px #0a95fa;">LB</span>
<span class="t" style="left:411.31px;top:3595.16px;font-size:45.00px;color:#0b8ee8;letter-spacing:-0.324px;-webkit-text-stroke:0.4px #0b8ee8;">Lee Benjamin</span>
<span class="t" style="left:411.92px;top:3653.91px;font-size:38.50px;color:#647182;letter-spacing:0.100px;">lbenjamin</span>
<span class="t" style="left:1007.50px;top:3622.91px;font-size:37.50px;color:#111827;">5.4</span>
<span class="t" style="left:1135.36px;top:3622.91px;font-size:37.50px;color:#fff;-webkit-text-stroke:0.35px #fff;">High</span>
<span class="t" style="left:1623.59px;top:3622.91px;font-size:37.50px;color:#111827;">Cursor</span>
<span class="t" style="left:2241.57px;top:3622.91px;font-size:37.50px;color:#111827;letter-spacing:-1.404px;">30.1</span>
<span class="t" style="left:2323.50px;top:3626.66px;font-size:33.00px;color:#647182;letter-spacing:-0.766px;">/ mo</span>
<span class="t" style="left:2424.16px;top:3622.91px;font-size:37.50px;color:#4d6f77;letter-spacing:-0.596px;">+20%</span>
<span class="t" style="left:2858.14px;top:3622.91px;font-size:37.50px;color:#111827;letter-spacing:-1.181px;">40%</span>
<span class="t" style="left:289.10px;top:3817.91px;font-size:35.50px;color:#0a95fa;-webkit-text-stroke:0.3px #0a95fa;">AS</span>
<span class="t" style="left:414.91px;top:3787.66px;font-size:45.00px;color:#0b8ee8;letter-spacing:-0.071px;-webkit-text-stroke:0.4px #0b8ee8;">Ann Smith</span>
<span class="t" style="left:412.88px;top:3846.41px;font-size:38.50px;color:#647182;letter-spacing:0.050px;">annsmith7</span>
<span class="t" style="left:1007.12px;top:3815.41px;font-size:37.50px;color:#111827;">2.9</span>
<span class="t" style="left:1137.26px;top:3815.41px;font-size:37.50px;color:#fff;-webkit-text-stroke:0.35px #fff;">Medium</span>
<span class="t" style="left:1623.59px;top:3815.41px;font-size:37.50px;color:#111827;">Cursor</span>
<span class="t" style="left:2241.12px;top:3815.41px;font-size:37.50px;color:#111827;letter-spacing:0.492px;">24.5</span>
<span class="t" style="left:2329.00px;top:3819.16px;font-size:33.00px;color:#647182;letter-spacing:-0.600px;">/ mo</span>
<span class="t" style="left:2435.35px;top:3815.41px;font-size:37.50px;color:#e11d48;letter-spacing:-1.187px;">-15%</span>
<span class="t" style="left:2857.57px;top:3815.41px;font-size:37.50px;color:#111827;letter-spacing:-0.900px;">30%</span>
<span class="t" style="left:298.55px;top:4010.41px;font-size:35.50px;color:#0a95fa;-webkit-text-stroke:0.3px #0a95fa;">R</span>
<span class="t" style="left:412.03px;top:4005.16px;font-size:45.00px;color:#0b8ee8;letter-spacing:0.643px;-webkit-text-stroke:0.4px #0b8ee8;">rosegalvin</span>
<span class="t" style="left:1007.12px;top:4007.91px;font-size:37.50px;color:#111827;">2.1</span>
<span class="t" style="left:1127.77px;top:4007.91px;font-size:37.50px;color:#1187e0;-webkit-text-stroke:0.35px #1187e0;">Low</span>
<span class="t" style="left:1623.59px;top:4007.91px;font-size:37.50px;color:#111827;letter-spacing:0.317px;">Claude Code</span>
<span class="t" style="left:2240.15px;top:4007.91px;font-size:37.50px;color:#111827;letter-spacing:-0.850px;">12.5</span>
<span class="t" style="left:2327.00px;top:4011.66px;font-size:33.00px;color:#647182;letter-spacing:-0.933px;">/ mo</span>
<span class="t" style="left:2437.16px;top:4007.91px;font-size:37.50px;color:#4d6f77;letter-spacing:-0.469px;">+4%</span>
<span class="t" style="left:2857.12px;top:4007.91px;font-size:37.50px;color:#111827;letter-spacing:-0.675px;">28%</span></div>
</body></html>
